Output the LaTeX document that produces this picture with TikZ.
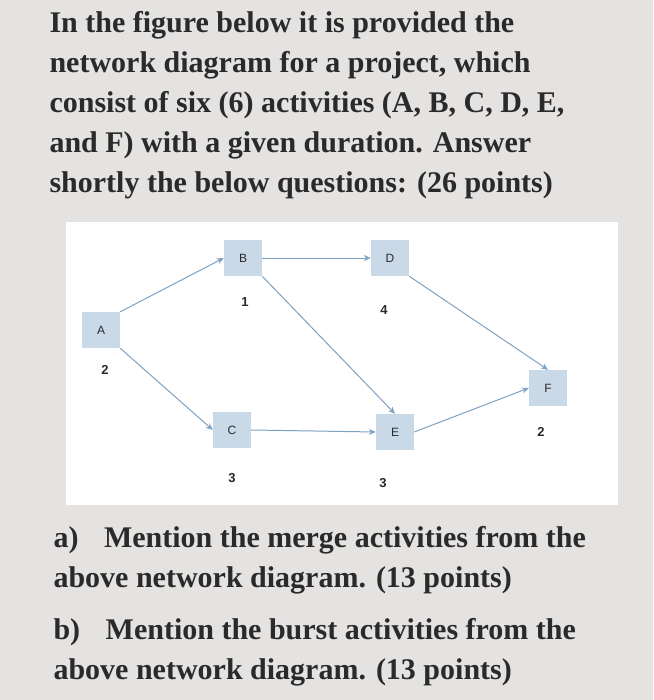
\documentclass[tikz,border=0pt]{standalone}
\usepackage{fontspec}
\setmainfont{Liberation Serif}
\newfontfamily\diag{Liberation Sans}
\usetikzlibrary{arrows.meta}
\definecolor{bg}{HTML}{E4E3E1}
\definecolor{txt}{HTML}{2B2A2A}
\definecolor{nodefill}{HTML}{C9D9E8}
\definecolor{arr}{HTML}{7FA2C2}
\tikzset{
 act/.style={fill=nodefill,minimum width=38pt,minimum height=36pt,inner sep=0pt,font=\diag\fontsize{12}{12}\selectfont,text=txt},
 num/.style={font=\diag\bfseries\fontsize{13}{13}\selectfont,text=txt},
 con/.style={draw=arr,line width=1pt,-{Stealth[length=7pt,width=6pt]}},
 para/.style={anchor=west,font=\bfseries\fontsize{30}{30}\selectfont,text=txt}
}
\begin{document}
\begin{tikzpicture}[x=1pt,y=-1pt]
\useasboundingbox (0,0) rectangle (653,700);
\fill[bg] (0,0) rectangle (653,700);
\fill[white] (66,222) rectangle (618,505);
\node[para] (t1) at (46,25) {In the figure below it is provided the};
\node[para] (t2) at (46,65) {network diagram for a project, which};
\node[para] (t3) at (46,105) {consist of six (6) activities (A, B, C, D, E,};
\node[para] (t4) at (46,145) {and F) with a given duration. Answer};
\node[para] (t5) at (46,185) {shortly the below questions: (26 points)};
\node[act] (A) at (101,330) {A};
\node[act] (B) at (243,258) {B};
\node[act] (D) at (390,258) {D};
\node[act] (C) at (232,430) {C};
\node[act] (E) at (395,432) {E};
\node[act] (F) at (548,388) {F};
\node[num] (nA) at (105,370) {2};
\node[num] (nB) at (245,302) {1};
\node[num] (nD) at (384,310) {4};
\node[num] (nC) at (232,478) {3};
\node[num] (nE) at (383,483) {3};
\node[num] (nF) at (541,432) {2};
\draw[con] (A.north east) -- (B.west);
\draw[con] (A.south east) -- (C.west);
\draw[con] (B.east) -- (D.west);
\draw[con] (B.south east) -- (E.north);
\draw[con] (C.east) -- (E.west);
\draw[con] (D.south east) -- (F.north);
\draw[con] (E.east) -- (F.west);
\node[para] (qa1) at (50,540) {a)\hspace{0.6em} Mention the merge activities from the};
\node[para] (qa2) at (50,580) {above network diagram. (13 points)};
\node[para] (qb1) at (50,632) {b)\hspace{0.6em} Mention the burst activities from the};
\node[para] (qb2) at (50,672) {above network diagram. (13 points)};
\end{tikzpicture}
\end{document}
